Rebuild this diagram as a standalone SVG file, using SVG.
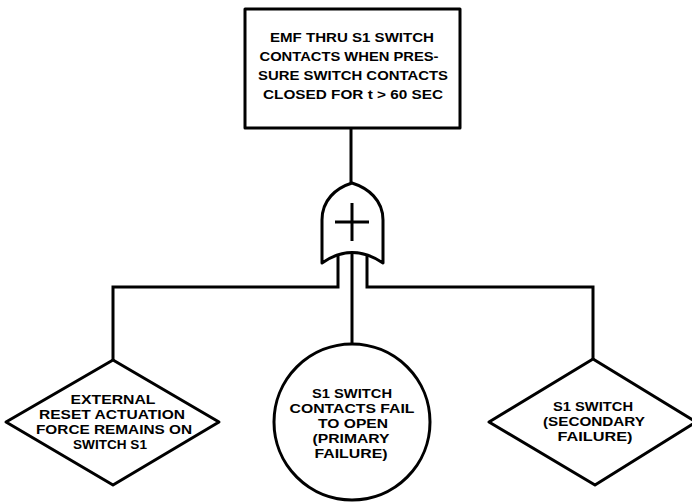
<svg xmlns="http://www.w3.org/2000/svg" width="692" height="504" viewBox="0 0 692 504">
<style>
.s{fill:#fff;stroke:#000;stroke-width:3;stroke-linejoin:round}
.c{fill:none;stroke:#000;stroke-width:3}
text{font-family:"Liberation Sans",Arial,sans-serif;font-weight:bold;font-size:13px;text-anchor:middle;fill:#000}
</style>
<rect width="692" height="504" fill="#fff"/>
<g id="connectors">
<line class="c" x1="351" y1="128" x2="351" y2="184"/>
<polyline class="c" points="338,255 338,287 113,287 113,361"/>
<polyline class="c" points="367,255 367,287 593,287 593,360"/>
<line class="c" x1="352" y1="252" x2="352" y2="345"/>
</g>
<g id="top">
<rect class="s" x="245" y="9" width="215" height="119"/>
<text x="352" y="42" textLength="164" lengthAdjust="spacingAndGlyphs" font-size="15">EMF THRU S1 SWITCH</text>
<text x="349" y="61" textLength="179" lengthAdjust="spacingAndGlyphs" font-size="15">CONTACTS WHEN PRES-</text>
<text x="353" y="80" textLength="190" lengthAdjust="spacingAndGlyphs" font-size="15">SURE SWITCH CONTACTS</text>
<text x="353" y="99" textLength="180" lengthAdjust="spacingAndGlyphs" font-size="15">CLOSED FOR t &gt; 60 SEC</text>
</g>
<g id="gate">
<path class="s" d="M352,183 C336,188 322,200 322,220 L322,263 Q352,242 383,263 L383,220 C383,200 368,188 352,183 Z"/>
<line class="c" x1="335" y1="222" x2="369" y2="222"/>
<line class="c" x1="352" y1="203" x2="352" y2="241"/>
</g>
<g id="external">
<polygon class="s" points="113,360 219,422 113,485 6,422"/>
<text x="113" y="404" textLength="85" lengthAdjust="spacingAndGlyphs">EXTERNAL</text>
<text x="112" y="419" textLength="146" lengthAdjust="spacingAndGlyphs">RESET ACTUATION</text>
<text x="114" y="434" textLength="156" lengthAdjust="spacingAndGlyphs">FORCE REMAINS ON</text>
<text x="110" y="449" textLength="74" lengthAdjust="spacingAndGlyphs">SWITCH S1</text>
</g>
<g id="primary">
<circle class="s" cx="352" cy="422" r="78"/>
<text x="352" y="398" textLength="80" lengthAdjust="spacingAndGlyphs">S1 SWITCH</text>
<text x="352" y="413" textLength="125" lengthAdjust="spacingAndGlyphs">CONTACTS FAIL</text>
<text x="353" y="428" textLength="70" lengthAdjust="spacingAndGlyphs">TO OPEN</text>
<text x="351" y="443" textLength="77" lengthAdjust="spacingAndGlyphs">(PRIMARY</text>
<text x="351" y="458" textLength="73" lengthAdjust="spacingAndGlyphs">FAILURE)</text>
</g>
<g id="secondary">
<polygon class="s" points="593,359 696,422 595,485 489,422"/>
<text x="593" y="411" textLength="80" lengthAdjust="spacingAndGlyphs">S1 SWITCH</text>
<text x="594" y="426" textLength="102" lengthAdjust="spacingAndGlyphs">(SECONDARY</text>
<text x="595" y="441" textLength="75" lengthAdjust="spacingAndGlyphs">FAILURE)</text>
</g>
</svg>
